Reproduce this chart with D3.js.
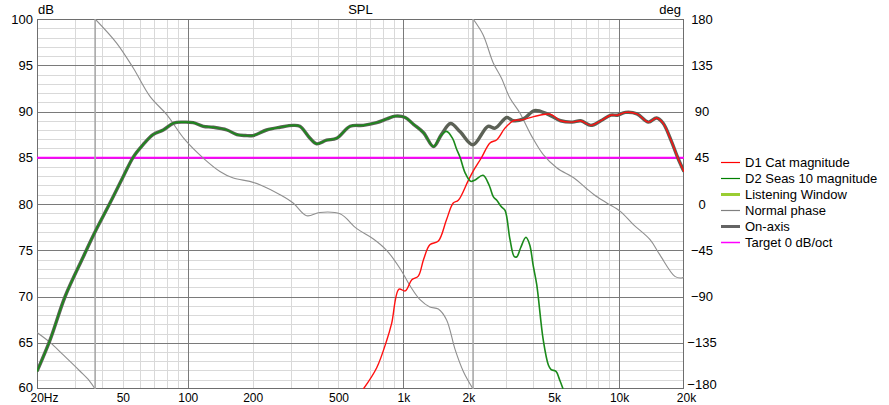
<!DOCTYPE html>
<html><head><meta charset="utf-8">
<script src="https://cdn.jsdelivr.net/npm/d3@7"></script>
<style>
body{margin:0;background:#fff;}
svg{display:block;font-family:"Liberation Sans",Arial,sans-serif;}
</style></head>
<body><svg id="c" width="889" height="405"></svg>
<script>
// ---- data ----
const xTickValues = [20, 50, 100, 200, 500, 1000, 2000, 5000, 10000, 20000];
const xTickLabels = ["20Hz", "50", "100", "200", "500", "1k", "2k", "5k", "10k", "20k"];
const dbTicks = [60, 65, 70, 75, 80, 85, 90, 95, 100];
const degTicks = [-180, -135, -90, -45, 0, 45, 90, 135, 180];

const onAxisFreq = [20, 23, 27, 32.8, 37.2, 43.6, 50.3, 56, 62, 69, 77, 86, 95, 106, 118, 131, 152, 169, 185, 201, 232, 268, 308, 331, 369, 396, 440, 490, 566, 652, 752, 838, 916, 1020, 1115, 1240, 1380, 1500, 1654, 1834, 2100, 2466, 2662, 3014, 3236, 3606, 4048, 4632, 5354, 6074, 6640, 7396, 8230, 9152, 9820, 10700, 12094, 13672, 14914, 15980, 17472, 18714, 20000];
const onAxisDb = [61.9, 65.3, 70.0, 74.3, 77.0, 80.1, 83.0, 85.1, 86.4, 87.5, 88.0, 88.75, 88.85, 88.8, 88.4, 88.3, 88.0, 87.5, 87.4, 87.4, 88.0, 88.3, 88.5, 88.4, 87.1, 86.5, 86.9, 87.1, 88.4, 88.5, 88.8, 89.2, 89.5, 89.35, 88.6, 87.7, 86.2, 87.5, 88.7, 87.8, 86.4, 88.4, 88.2, 89.35, 89.0, 89.2, 90.1, 89.75, 89.0, 88.85, 89.0, 88.5, 89.0, 89.6, 89.6, 89.9, 89.75, 88.85, 89.3, 88.75, 86.8, 85.0, 83.5];

const d2Freq = [20, 23, 27, 32.8, 37.2, 43.6, 50.3, 56, 62, 69, 77, 86, 95, 106, 118, 131, 152, 169, 185, 201, 232, 268, 308, 331, 369, 396, 440, 490, 566, 652, 752, 838, 916, 1020, 1115, 1240, 1380, 1470, 1584, 1690, 1760, 1834, 1930, 2050, 2150, 2340, 2500, 2610, 2710, 2846, 2960, 3118, 3270, 3360, 3500, 3700, 3850, 4000, 4150, 4450, 4700, 4841, 5100, 5300, 5500];
const d2Db = [61.9, 65.3, 70.0, 74.3, 77.0, 80.1, 83.0, 85.1, 86.4, 87.5, 88.0, 88.75, 88.85, 88.8, 88.4, 88.3, 88.0, 87.5, 87.4, 87.4, 88.0, 88.3, 88.5, 88.4, 87.1, 86.5, 86.9, 87.1, 88.4, 88.5, 88.8, 89.2, 89.5, 89.35, 88.6, 87.7, 86.2, 87.2, 87.85, 87.1, 86.0, 85.0, 83.4, 82.45, 82.6, 83.1, 82.0, 80.8, 80.4, 79.7, 79.3, 76.2, 74.3, 74.3, 75.3, 76.4, 75.6, 73.3, 71.3, 65.3, 62.6, 62.1, 61.9, 61.0, 60.0];

const d1Freq = [652, 752, 838, 882, 954, 1020, 1094, 1172, 1240, 1326, 1452, 1584, 1702, 1797, 1990, 2100, 2300, 2520, 2712, 2957, 3236, 3540, 4020, 4800, 5354, 6074, 6640, 7396, 8230, 9152, 9820, 10700, 12094, 13672, 14914, 15980, 17472, 18714, 20000];
const d1Db = [60.0, 62.3, 65.3, 67.1, 70.8, 70.6, 71.8, 72.2, 74.0, 75.6, 76.0, 78.3, 80.1, 80.4, 82.45, 83.5, 85.0, 86.6, 86.95, 88.2, 89.0, 89.1, 89.45, 89.7, 89.0, 88.85, 89.0, 88.5, 89.0, 89.6, 89.6, 89.9, 89.75, 88.85, 89.3, 88.75, 86.8, 85.0, 83.5];

const phaseFreq = [20, 23, 26.4, 31.6, 35, 37.2, 37.2, 46.8, 55.9, 66.8, 79.9, 97, 118, 141, 162.6, 194, 216, 268, 308, 356, 410, 508, 608, 726, 838, 966, 1078, 1194, 1326, 1452, 1584, 1737, 1896, 2104, 2104, 2340, 2610, 2846, 3118, 3468, 3938, 4452, 5152, 6180, 7014, 7660, 8770, 10130, 11650, 13920, 15440, 18140, 19400, 20000];
const phaseDeg = [-125, -134.7, -146.6, -162.5, -172, -180, 180, 156.6, 132.3, 104.7, 86.9, 62.6, 44.7, 31.7, 25.3, 22.0, 18.8, 9.0, 1.0, -11.4, -8.2, -9.6, -24, -34, -45.3, -63, -80.2, -93.1, -100.2, -102.2, -112.6, -141.7, -162.9, -180, 180, 164.7, 137.2, 122.6, 103.1, 88.5, 65.8, 48.0, 35.0, 25.3, 15.6, 9.0, 1.0, -7.2, -20.1, -34.7, -49.3, -70.4, -72.0, -71.0];

const targetDb = 85;

const legendNames = ["D1 Cat magnitude", "D2 Seas 10 magnitude", "Listening Window", "Normal phase", "On-axis", "Target 0 dB/oct"];
const legendColors = ["#ff0000", "#008000", "#9acd32", "#808080", "#646464", "#ff00ff"];
const legendWidths = [1.2, 1.2, 3, 1.2, 3, 1.5];

// ---- layout ----
const L = 37, R = 684, T = 19, B = 389;
const svg = d3.select("#c");
const x = d3.scaleLog().domain([20, 20000]).range([L, R]);
const y = d3.scaleLinear().domain([60, 100]).range([B, T]);
const yp = d3.scaleLinear().domain([-180, 180]).range([B, T]);

// grid
const minorX = [], majorX = [100, 1000, 10000];
[10, 100, 1000, 10000].forEach(d => { for (let m = 2; m <= 9; m++) { const f = m * d; if (f > 20 && f < 20000) minorX.push(f); } });
const minorY = d3.range(61, 100).filter(v => v % 5 !== 0);
const majorY = d3.range(65, 100, 5);
const g = svg.append("g");
g.selectAll(".mx").data(minorX).join("line").attr("x1", d => Math.round(x(d)) + 0.5).attr("x2", d => Math.round(x(d)) + 0.5)
  .attr("y1", T).attr("y2", B).attr("stroke", "#d9d9d9");
g.selectAll(".my").data(minorY).join("line").attr("y1", d => Math.round(y(d)) + 0.5).attr("y2", d => Math.round(y(d)) + 0.5)
  .attr("x1", L).attr("x2", R).attr("stroke", "#d9d9d9");
g.selectAll(".Mx").data(majorX).join("line").attr("x1", d => Math.round(x(d)) + 0.5).attr("x2", d => Math.round(x(d)) + 0.5)
  .attr("y1", T).attr("y2", B).attr("stroke", "#7a7a7a");
g.selectAll(".My").data(majorY).join("line").attr("y1", d => Math.round(y(d)) + 0.5).attr("y2", d => Math.round(y(d)) + 0.5)
  .attr("x1", L).attr("x2", R).attr("stroke", "#7a7a7a");
g.append("rect").attr("x", L + 0.5).attr("y", T + 0.5).attr("width", R - L - 1).attr("height", B - T - 1)
  .attr("fill", "none").attr("stroke", "#6e6e6e");

// axes labels
const xAxis = d3.axisBottom(x).tickValues(xTickValues).tickFormat((d, i) => xTickLabels[i]).tickSize(0);
const xa = svg.append("g").attr("transform", `translate(0,${B})`).call(xAxis);
xa.select(".domain").remove();
xa.selectAll("text").attr("font-size", 12).attr("fill", "#000").attr("font-family", "Liberation Sans, Arial, sans-serif")
  .attr("y", 13.2).attr("dy", 0)
  .attr("text-anchor", (d, i) => i === 0 ? "start" : "middle").attr("dx", (d, i) => i === 0 ? -7 : (i === xTickValues.length - 1 ? 2 : 0));

const yAxis = d3.axisLeft(y).tickValues(dbTicks).tickSize(0).tickPadding(4);
const ya = svg.append("g").attr("transform", `translate(${L},0)`).call(yAxis);
ya.select(".domain").remove();
ya.selectAll("text").attr("font-size", 13).attr("fill", "#000").attr("font-family", "Liberation Sans, Arial, sans-serif")
  .attr("dy", d => d === 60 ? "0.2em" : "0.32em");

const ypAxis = d3.axisRight(yp).tickValues(degTicks).tickSize(0).tickPadding(18);
const ypa = svg.append("g").attr("transform", `translate(${R},0)`).call(ypAxis);
ypa.select(".domain").remove();
ypa.selectAll("text").attr("font-size", 13).attr("fill", "#000").attr("text-anchor", "middle").attr("font-family", "Liberation Sans, Arial, sans-serif")
  .attr("dy", d => d === -180 ? "-0.06em" : "0.32em");

svg.append("text").attr("x", 38).attr("y", 13.5).attr("font-size", 13).text("dB");
svg.append("text").attr("x", (L + R) / 2).attr("y", 13.5).attr("font-size", 13).attr("text-anchor", "middle").text("SPL");
svg.append("text").attr("x", 681).attr("y", 13.5).attr("font-size", 13).attr("text-anchor", "end").text("deg");

// clip
svg.append("clipPath").attr("id", "clip").append("rect").attr("x", L).attr("y", T).attr("width", R - L).attr("height", B - T);
const plot = svg.append("g").attr("clip-path", "url(#clip)");

// target
plot.append("line").attr("x1", L).attr("x2", R).attr("y1", y(targetDb)).attr("y2", y(targetDb))
  .attr("stroke", "#ff00ff").attr("stroke-width", 2);

// phase: split at wraps
const segs = [[]];
phaseFreq.forEach((f, i) => {
  if (i > 0 && phaseFreq[i - 1] === f) segs.push([]);
  segs[segs.length - 1].push([f, phaseDeg[i]]);
});
const curve = d3.curveCatmullRom.alpha(0.5);
const pl = d3.line().x(d => x(d[0])).y(d => yp(d[1])).curve(curve);
segs.forEach(s => plot.append("path").attr("d", pl(s)).attr("fill", "none").attr("stroke", "#8f8f8f").attr("stroke-width", 1.1));
for (let i = 1; i < phaseFreq.length; i++) {
  if (phaseFreq[i] === phaseFreq[i - 1]) {
    plot.append("line").attr("x1", x(phaseFreq[i])).attr("x2", x(phaseFreq[i]))
      .attr("y1", yp(phaseDeg[i - 1])).attr("y2", yp(phaseDeg[i])).attr("stroke", "#a8a8a8").attr("stroke-width", 1.6);
  }
}

const ml = d3.line().x(d => x(d[0])).y(d => y(d[1])).curve(curve);
const zip = (a, b) => a.map((v, i) => [v, b[i]]);
plot.append("path").attr("d", ml(zip(onAxisFreq, onAxisDb))).attr("fill", "none").attr("stroke", "#5c6156").attr("stroke-width", 3.4).attr("stroke-linejoin", "round");
plot.append("path").attr("d", ml(zip(d1Freq, d1Db))).attr("fill", "none").attr("stroke", "#ff1010").attr("stroke-width", 1.4);
plot.append("path").attr("d", ml(zip(d2Freq, d2Db))).attr("fill", "none").attr("stroke", "#1b8a1b").attr("stroke-width", 1.6);

// legend
const lg = svg.append("g");
legendNames.forEach((n, i) => {
  const yy = 162.5 + i * 16;
  lg.append("line").attr("x1", 721).attr("x2", 740).attr("y1", yy).attr("y2", yy)
    .attr("stroke", legendColors[i]).attr("stroke-width", legendWidths[i]);
  lg.append("text").attr("x", 745).attr("y", yy + 4.5).attr("font-size", 13).attr("fill", "#000").text(n);
});
</script></body></html>
